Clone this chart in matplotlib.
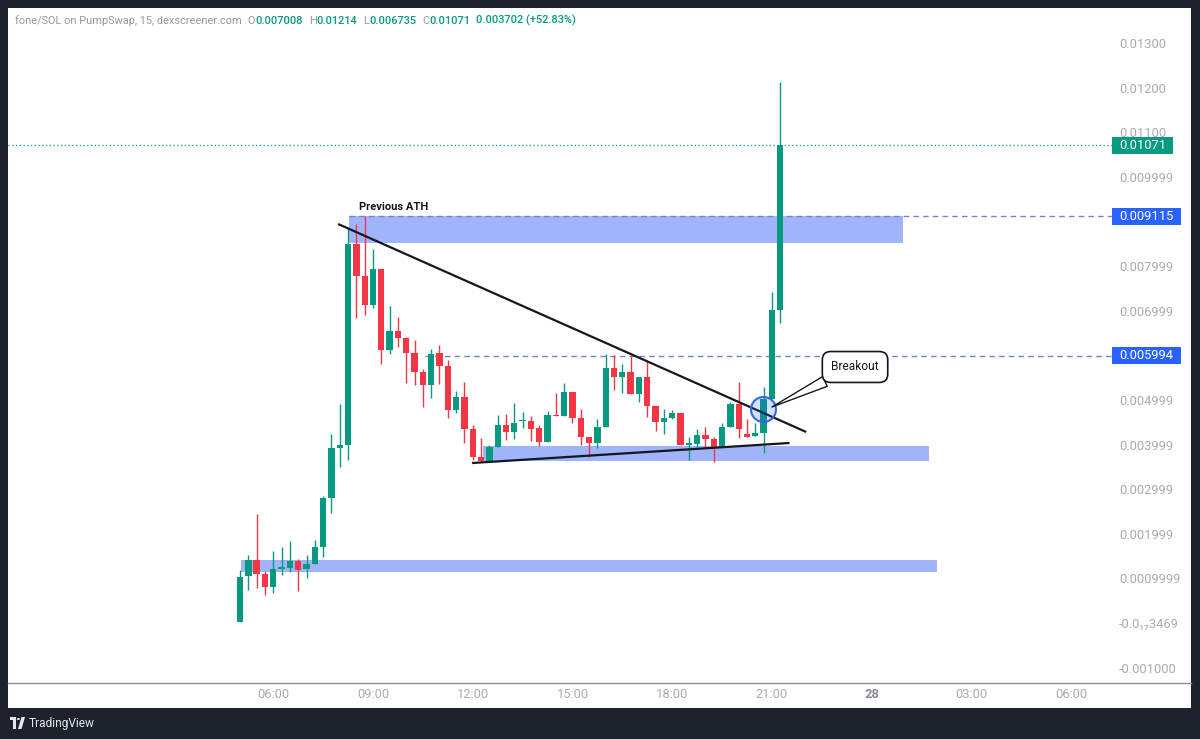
import numpy as np
import matplotlib.pyplot as plt
from matplotlib.patches import Rectangle, Polygon, Circle
from matplotlib.lines import Line2D
from matplotlib.transforms import blended_transform_factory

plt.rcParams['font.family'] = ['Roboto', 'DejaVu Sans']

# fone/SOL 15 min candles, first one at 05:00
start_hour = 5.0
step = 0.25
opens = [0.000022, 0.001054, 0.001413, 0.001099, 0.000807, 0.001211, 0.001233, 0.001390, 0.001211, 0.001323,
         0.001704, 0.002803, 0.003924, 0.003991, 0.008498, 0.007780, 0.007130, 0.007937, 0.006121, 0.006547,
         0.006390, 0.006054, 0.005628, 0.005336, 0.006054, 0.005762, 0.004776, 0.005067, 0.004350, 0.003722,
         0.003632, 0.003946, 0.004439, 0.004283, 0.004518, 0.004529, 0.004372, 0.004058, 0.004664, 0.004641,
         0.005179, 0.004596, 0.004170, 0.004036, 0.004395, 0.005717, 0.005516, 0.005628, 0.005135, 0.005516,
         0.004865, 0.004507, 0.004596, 0.004709, 0.004002, 0.004013, 0.004215, 0.004126, 0.003946, 0.004395,
         0.004910, 0.004238, 0.004193, 0.004260, 0.005022, 0.007008]
highs = [0.001188, 0.001525, 0.002444, 0.001166, 0.001614, 0.001704, 0.001839, 0.001435, 0.001525, 0.001861,
         0.002848, 0.004238, 0.004910, 0.008834, 0.008946, 0.009115, 0.008386, 0.007937, 0.007108, 0.006861,
         0.006413, 0.006345, 0.005695, 0.006143, 0.006233, 0.005897, 0.005202, 0.005404, 0.004439, 0.004148,
         0.003991, 0.004664, 0.004686, 0.004933, 0.004731, 0.004641, 0.004439, 0.004753, 0.005157, 0.005381,
         0.005179, 0.004798, 0.004170, 0.004574, 0.006031, 0.006009, 0.005807, 0.006009, 0.005516, 0.005897,
         0.004865, 0.004798, 0.004776, 0.004709, 0.004170, 0.004350, 0.004395, 0.004170, 0.004484, 0.004955,
         0.005404, 0.004574, 0.004484, 0.005291, 0.007422, 0.01214]
lows = [0.000022, 0.000740, 0.000785, 0.000628, 0.000673, 0.001076, 0.001143, 0.000717, 0.001009, 0.001323,
        0.001480, 0.002466, 0.003498, 0.003655, 0.006839, 0.006906, 0.007063, 0.005807, 0.006031, 0.006188,
        0.005381, 0.005336, 0.004843, 0.005045, 0.005359, 0.004596, 0.004709, 0.004036, 0.003655, 0.003610,
        0.003610, 0.003946, 0.004103, 0.004126, 0.004372, 0.004081, 0.003969, 0.004058, 0.004641, 0.004641,
        0.004484, 0.003991, 0.003722, 0.003924, 0.004395, 0.005224, 0.005157, 0.005135, 0.004955, 0.004619,
        0.004305, 0.004238, 0.004574, 0.003991, 0.003655, 0.003946, 0.003946, 0.003610, 0.003946, 0.004395,
        0.004148, 0.004170, 0.004193, 0.003812, 0.005022, 0.006735]
closes = [0.001031, 0.001413, 0.001099, 0.000807, 0.001211, 0.001256, 0.001390, 0.001188, 0.001323, 0.001704,
          0.002803, 0.003924, 0.003991, 0.008498, 0.007780, 0.007130, 0.007937, 0.006121, 0.006547, 0.006390,
          0.006054, 0.005628, 0.005336, 0.006031, 0.005762, 0.004776, 0.005067, 0.004350, 0.003722, 0.003632,
          0.003946, 0.004439, 0.004283, 0.004484, 0.004540, 0.004350, 0.004058, 0.004664, 0.004641, 0.005179,
          0.004596, 0.004170, 0.004036, 0.004395, 0.005717, 0.005516, 0.005628, 0.005135, 0.005516, 0.004865,
          0.004507, 0.004596, 0.004709, 0.003991, 0.004025, 0.004215, 0.004126, 0.003946, 0.004395, 0.004910,
          0.004350, 0.004170, 0.004260, 0.005022, 0.007008, 0.01071]

# scale labels (the ones hidden by the price tags are left out, like on the chart)
ytick_vals = [0.013, 0.012, 0.011, 0.009999, 0.007999, 0.006999, 0.004999,
              0.003999, 0.002999, 0.001999, 0.0009999, 0.0, -0.001]
ytick_labels = ['0.01300', '0.01200', '0.01100', '0.009999', '0.007999', '0.006999',
                '0.004999', '0.003999', '0.002999', '0.001999', '0.0009999', '-0.0\u2081\u20873469', '-0.001000']
xtick_vals = [6, 9, 12, 15, 18, 21, 24, 27, 30]
xtick_labels = ['06:00', '09:00', '12:00', '15:00', '18:00', '21:00', '28', '03:00', '06:00']

# drawn zones (hours / prices)
zone_start = [8.28, 12.31, 5.03]
zone_end = [24.95, 25.73, 25.97]
zone_low = [0.00852, 0.003632, 0.001143]
zone_high = [0.009115, 0.003969, 0.001413]

# trend lines: (hour, price) pairs
resist_x = [7.95, 22.03]
resist_y = [0.008946, 0.004283]
support_x = [11.98, 21.53]
support_y = [0.003587, 0.004036]

ath_level = 0.009115
mid_level = 0.005994
last_close = 0.01071
tag_values = [last_close, ath_level, mid_level]
tag_labels = ['0.01071', '0.009115', '0.005994']

header_name = 'fone/SOL on PumpSwap, 15, dexscreener.com'
header_ohlc = [('O', '0.007008'), ('H', '0.01214'), ('L', '0.006735'), ('C', '0.01071')]
header_change = '0.003702 (+52.83%)'

GREEN = '#089981'
RED = '#f23645'
BLUE = '#2962ff'
ZONE = '#a0b4fa'
DARK = '#1e222d'
INK = '#131722'
AXTXT = '#a8abb3'

W, H = 1200, 739
def fx(x):
    return x / W
def fy(y):
    return 1 - y / H

fig = plt.figure(figsize=(12, 7.39), dpi=100, facecolor=DARK)
fig.add_artist(Rectangle((fx(8), fy(708)), fx(1191) - fx(8), fy(8) - fy(708),
                         transform=fig.transFigure, fc='white', ec='none', zorder=0))
fig.add_artist(Line2D([fx(8), fx(1191)], [fy(682.5)] * 2, transform=fig.transFigure,
                      color='#8a8d95', lw=1, zorder=1))

ax = fig.add_axes([fx(8), fy(682), fx(1112) - fx(8), fy(8) - fy(682)])
ax.set_facecolor('white')
for s in ax.spines.values():
    s.set_visible(False)
ax.set_xlim(-1.98, 31.23)
ax.set_ylim(-0.001323, 0.013789)

o = np.array(opens)
h = np.array(highs)
l = np.array(lows)
c = np.array(closes)
hours = start_hour + step * np.arange(len(o))
cols = np.where(c >= o, GREEN, RED)

# zones
for x0, x1, y0, y1 in zip(zone_start, zone_end, zone_low, zone_high):
    ax.add_patch(Rectangle((x0, y0), x1 - x0, y1 - y0, fc=ZONE, ec='none', zorder=1))

# level lines
ax.axhline(last_close, color=GREEN, ls=(0, (1, 2)), lw=0.9, zorder=1.5)
ax.hlines(ath_level, zone_start[0], 31.23, color='#6d86d3', ls=(0, (4, 3)), lw=1, zorder=1.5)
ax.hlines(mid_level, 10.57, 31.23, color='#6d86d3', ls=(0, (4, 3)), lw=1, zorder=1.5)

# candles
ax.vlines(hours, l, h, colors=cols, lw=1, zorder=3)
ax.bar(hours, np.maximum(np.abs(c - o), 0.00003), width=0.19, bottom=np.minimum(o, c),
       color=cols, linewidth=0, zorder=4)

# trend lines
ax.plot(resist_x, resist_y, color=INK, lw=1.6, zorder=5, solid_capstyle='butt')
ax.plot(support_x, support_y, color=INK, lw=1.6, zorder=5, solid_capstyle='butt')

ax.text(8.58, 0.009327, 'Previous ATH', fontsize=8, fontweight='bold', color=INK, va='center', ha='left', zorder=6)

# breakout marker and callout
ax.plot([20.73], [0.004798], marker='o', ms=18, mfc=(0.16, 0.38, 1.0, 0.2), mec='#3566e6', mew=1.5, zorder=6)
ax.annotate('Breakout', xy=(21.0, 0.004843), xytext=(23.5, 0.00574), ha='center', va='center',
            fontsize=8.6, color=INK, zorder=7,
            bbox=dict(boxstyle='round,pad=0.75,rounding_size=0.7', fc='white', ec=INK, lw=1.2),
            arrowprops=dict(arrowstyle='wedge,tail_width=0.9,shrink_factor=0.5', fc='white', ec=INK, lw=1.0,
                            shrinkA=0, shrinkB=0))

# axes ticks
ax.yaxis.tick_right()
ax.set_yticks(ytick_vals, ytick_labels)
ax.tick_params(axis='y', length=0, pad=5.2, labelsize=9.3, labelcolor=AXTXT)
ax.set_xticks(xtick_vals, xtick_labels)
ax.tick_params(axis='x', length=0, pad=4.2, labelsize=9.3, labelcolor=AXTXT)
ax.get_xticklabels()[6].set_fontweight('bold')
ax.get_xticklabels()[6].set_color('#868993')

# price tags on the scale
btr = blended_transform_factory(ax.transAxes, ax.transData)
ppx = (0.013789 + 0.001323) / 674.0  # price per pixel
axw = 1104.0
tag_cols = [GREEN, BLUE, BLUE]
tag_w = [61, 69, 69]
for v, lab, col, wd in zip(tag_values, tag_labels, tag_cols, tag_w):
    ax.add_patch(Rectangle((1.0, v - 8.5 * ppx), wd / axw, 17 * ppx, transform=btr, fc=col, ec='none',
                           clip_on=False, zorder=8))
    ax.text(1.0 + 7.5 / axw, v, lab, transform=btr, color='white', fontsize=9.3, va='center', ha='left',
            zorder=9, clip_on=False)

# header legend
hsize = 7.9
t = fig.text(fx(15), fy(21), header_name, color='#9598a1', fontsize=hsize, va='center', ha='left')
gap = 4.3
for k, val in header_ohlc:
    t = ax.annotate(k, xy=(1, 0), xycoords=t, xytext=(gap, 0), textcoords='offset points',
                    color='#9598a1', fontsize=hsize, va='bottom', ha='left', annotation_clip=False)
    t = ax.annotate(val, xy=(1, 0), xycoords=t, xytext=(0, 0), textcoords='offset points',
                    color=GREEN, fontsize=hsize, fontweight='medium', va='bottom', ha='left', annotation_clip=False)
t = ax.annotate(header_change, xy=(1, 0), xycoords=t, xytext=(gap, 0), textcoords='offset points',
                color=GREEN, fontsize=hsize, fontweight='medium', va='bottom', ha='left', annotation_clip=False)

# TradingView footer logo
fig.add_artist(Rectangle((fx(10), fy(720)), fx(16) - fx(10), fy(717) - fy(720), transform=fig.transFigure,
                         fc='#e6e7ea', ec='none'))
fig.add_artist(Rectangle((fx(13), fy(729)), fx(16) - fx(13), fy(717) - fy(729), transform=fig.transFigure,
                         fc='#e6e7ea', ec='none'))
fig.add_artist(Circle((fx(18.3), fy(719)), 1.6 / W, transform=fig.transFigure, fc='#e6e7ea', ec='none'))
fig.add_artist(Polygon([(fx(18), fy(729)), (fx(21.5), fy(729)), (fx(25), fy(717)), (fx(21.5), fy(717))],
                       closed=True, transform=fig.transFigure, fc='#e6e7ea', ec='none'))
fig.text(fx(29), fy(723), 'TradingView', color='#e6e7ea', fontsize=8.6, va='center', ha='left')

fig.savefig('out.png', dpi=100, facecolor=DARK)
